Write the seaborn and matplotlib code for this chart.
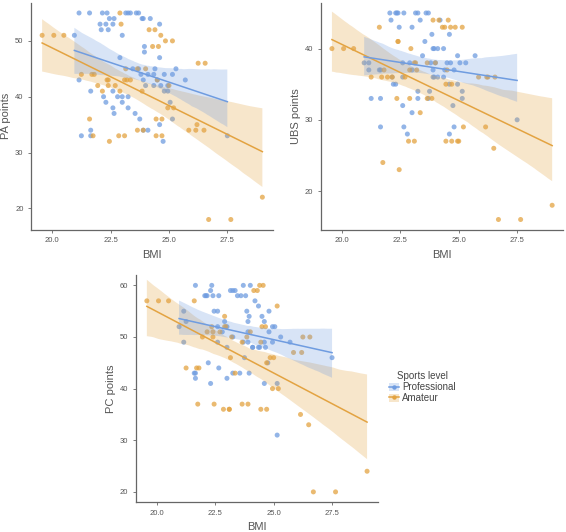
import numpy as np
import pandas as pd
import seaborn as sb
import matplotlib
matplotlib.use("Agg")
from matplotlib import pyplot as plt
from matplotlib.patches import Patch
from matplotlib.lines import Line2D
from matplotlib.collections import PolyCollection

# Professional players: BMI and the three test scores
bmi_pro = [20.95, 21.15, 21.15, 21.25, 21.6, 21.65, 21.65, 21.65, 22.05, 22.1,
           22.15, 22.2, 22.3, 22.3, 22.35, 22.4, 22.45, 22.6, 22.6, 22.6,
           22.65, 22.65, 22.8, 22.9, 23.0, 23.0, 23.0, 23.15, 23.25, 23.25,
           23.25, 23.35, 23.45, 23.55, 23.6, 23.7, 23.7, 23.75, 23.8, 23.85,
           23.9, 23.9, 23.9, 23.95, 23.95, 24.0, 24.1, 24.1, 24.2, 24.35,
           24.35, 24.4, 24.5, 24.6, 24.6, 24.6, 24.65, 24.75, 24.8, 24.8,
           24.95, 24.95, 25.05, 25.15, 25.15, 25.3, 25.7, 27.5]
pa_pro = [51, 55, 43, 33, 55, 41, 33, 34, 53, 52,
          55, 40, 53, 39, 55, 52, 54, 53, 41, 38,
          54, 37, 40, 47, 51, 40, 39, 55, 55, 40,
          38, 55, 45, 37, 55, 55, 45, 36, 44, 54,
          54, 34, 43, 49, 48, 42, 44, 34, 54, 44,
          42, 45, 43, 53, 47, 35, 42, 32, 44, 41,
          41, 42, 39, 44, 36, 45, 43, 33]
ubs_pro = [38, 38, 37, 33, 37, 33, 29, 37, 45, 44,
           36, 35, 45, 35, 45, 45, 43, 38, 36, 32,
           45, 29, 28, 38, 43, 31, 37, 45, 45, 34,
           33, 44, 39, 41, 45, 45, 33, 34, 38, 42,
           40, 36, 37, 40, 36, 38, 36, 40, 44, 36,
           40, 37, 38, 42, 28, 35, 38, 32, 37, 29,
           39, 35, 38, 34, 33, 38, 39, 30]
pc_pro = [52, 55, 49, 53, 43, 42, 43, 60, 58, 58,
          58, 45, 59, 41, 60, 58, 55, 49, 55, 52,
          58, 44, 51, 53, 52, 42, 48, 59, 59, 43,
          50, 59, 58, 43, 58, 60, 49, 46, 58, 55,
          53, 49, 51, 54, 43, 60, 48, 48, 57, 48,
          56, 48, 54, 49, 53, 41, 48, 45, 51, 55,
          52, 49, 52, 41, 31, 50, 49, 46]

# Amateur players
bmi_ama = [19.57, 20.07, 20.5, 21.25, 21.6, 21.7, 21.75, 21.8, 21.95, 22.15,
           22.35, 22.4, 22.4, 22.45, 22.7, 22.85, 22.9, 22.9, 22.95, 23.1,
           23.1, 23.15, 23.2, 23.35, 23.65, 23.65, 23.85, 23.9, 24.0, 24.15,
           24.3, 24.4, 24.45, 24.45, 24.5, 24.55, 24.65, 24.7, 24.7, 24.85,
           24.95, 25.0, 25.15, 25.2, 25.85, 26.15, 26.2, 26.25, 26.5, 26.55,
           26.7, 27.65, 29.0]
pa_ama = [51, 51, 51, 44, 36, 44, 33, 44, 42, 41,
          43, 43, 42, 32, 42, 33, 55, 41, 53, 43,
          33, 45, 43, 43, 34, 45, 41, 34, 45, 52,
          49, 52, 36, 33, 43, 49, 51, 36, 33, 50,
          38, 42, 50, 38, 34, 34, 35, 46, 34, 46,
          18, 18, 22]
ubs_ama = [40, 40, 40, 36, 43, 36, 24, 37, 36, 36,
           33, 41, 41, 23, 36, 27, 33, 37, 40, 38,
           27, 38, 37, 31, 33, 38, 33, 44, 38, 44,
           43, 43, 27, 35, 37, 44, 43, 27, 35, 43,
           27, 27, 43, 29, 36, 29, 36, 36, 26, 36,
           16, 16, 18]
pc_ama = [57, 57, 57, 44, 57, 44, 37, 44, 50, 51,
          52, 51, 50, 37, 51, 36, 54, 52, 52, 36,
          36, 46, 50, 43, 37, 49, 50, 37, 51, 59,
          59, 60, 36, 49, 52, 60, 52, 36, 45, 46,
          40, 46, 56, 40, 47, 35, 47, 50, 33, 50,
          20, 20, 24]

levels = ["Professional", "Amateur"]
colors = {"Professional": "#6F9CE0", "Amateur": "#E3A341"}

df = pd.concat([
    pd.DataFrame({"BMI": bmi_pro, "PA": pa_pro, "UBS": ubs_pro, "PC": pc_pro,
                  "level": "Professional"}),
    pd.DataFrame({"BMI": bmi_ama, "PA": pa_ama, "UBS": ubs_ama, "PC": pc_ama,
                  "level": "Amateur"}),
])

plt.rcParams['font.family'] = ['Liberation Sans', 'DejaVu Sans']
fig = plt.figure(figsize=(5.66, 5.32), dpi=100)

axes_pos = {
    "PA": [0.055, 0.568, 0.428, 0.427],
    "UBS": [0.567, 0.568, 0.428, 0.427],
    "PC": [0.240, 0.056, 0.428, 0.427],
}
yticks = {"PA": [20, 30, 40, 50], "UBS": [20, 30, 40], "PC": [20, 30, 40, 50, 60]}

for i, (col, pos) in enumerate(axes_pos.items()):
    ax = fig.add_axes(pos)
    sb.scatterplot(data=df, x="BMI", y=col, hue="level", palette=colors,
                   hue_order=levels, s=13, alpha=0.75, linewidth=0,
                   legend=False, ax=ax, zorder=2)
    for lvl in ["Amateur", "Professional"]:
        sub = df[df["level"] == lvl]
        sb.regplot(data=sub, x="BMI", y=col, scatter=False, ci=95, seed=3,
                   color=colors[lvl], line_kws={"lw": 1.1, "zorder": 4},
                   truncate=True, ax=ax)
    for c in ax.collections:
        if isinstance(c, PolyCollection):
            c.set_alpha(0.27)
            c.set_zorder(3)

    x0, x1 = df["BMI"].min(), df["BMI"].max()
    y0, y1 = df[col].min(), df[col].max()
    ax.set_xlim(x0 - 0.05 * (x1 - x0), x1 + 0.05 * (x1 - x0))
    ax.set_ylim(y0 - 0.05 * (y1 - y0), y1 + 0.05 * (y1 - y0))
    ax.set_xticks([20, 22.5, 25, 27.5])
    ax.set_xticklabels(["20.0", "22.5", "25.0", "27.5"])
    ax.set_yticks(yticks[col])
    ax.set_xlabel("BMI", fontsize=8, color="#555555", labelpad=4)
    ax.set_ylabel(col + " points", fontsize=8, color="#555555", labelpad=3)
    for s in ["top", "right"]:
        ax.spines[s].set_visible(False)
    for s in ["left", "bottom"]:
        ax.spines[s].set_color("#666666")
        ax.spines[s].set_linewidth(0.9)
    ax.tick_params(labelsize=5.5, colors="#666666", length=2.5, width=0.6,
                   labelcolor="#555555", pad=3)

handles = [(Patch(facecolor=colors[l], alpha=0.27, edgecolor="none"),
            Line2D([], [], color=colors[l], lw=1.1, marker="o", markersize=3.2,
                   markeredgewidth=0)) for l in levels]
fig.legend(handles, levels, title="Sports level", loc="upper left",
           bbox_to_anchor=(0.675, 0.315), frameon=False, fontsize=7,
           title_fontsize=7, handlelength=1.0, handleheight=0.9,
           handletextpad=0.4, labelspacing=0.1, borderpad=0.2)
leg = fig.legends[0]
leg.get_title().set_color("#444444")
for t in leg.get_texts():
    t.set_color("#444444")

plt.savefig("out.png", dpi=100)
